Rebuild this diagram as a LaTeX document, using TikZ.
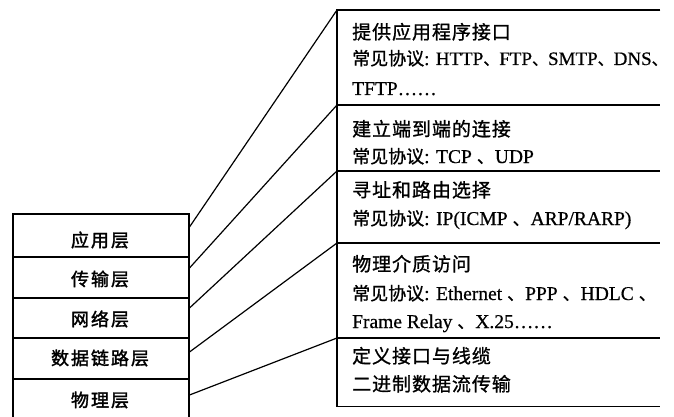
\documentclass[tikz,border=0pt]{standalone}
\usepackage{fontspec}
\setmainfont{Liberation Serif}[FakeBold=0.6]
\newfontfamily\cjk[FakeBold=1]{Noto Sans CJK SC}
\newfontfamily\cjkw[LetterSpace=5,FakeBold=1]{Noto Sans CJK SC}
\newfontfamily\cjkl[LetterSpace=11,FakeBold=1.8]{Noto Sans CJK SC}
\newcommand{\cdun}{{\cjk\fontsize{16}{16}\selectfont 、}}
\newcommand{\sdun}{\hspace{5pt}{\cjk\fontsize{17}{17}\selectfont 、}\hspace{1pt}}
\newcommand{\cjp}{{\cjk\fontsize{18}{18}\selectfont 常见协议}}
\begin{document}
\begin{tikzpicture}[x=1pt,y=-1pt,
  box/.style={draw=black, line width=1.5pt},
  layer/.style={rectangle, draw=black, line width=1.5pt, inner sep=0pt, minimum width=176pt, anchor=north west},
  sect/.style={rectangle, inner sep=0pt, minimum width=323pt, anchor=north west},
  lbl/.style={font=\cjkl\fontsize{18}{18}\selectfont, inner sep=0pt, anchor=center},
  txt/.style={anchor=base west, inner sep=0pt, font=\fontsize{19.5}{19.5}\selectfont},
  head/.style={anchor=base west, inner sep=0pt, font=\cjkw\fontsize{19}{19}\selectfont},
  conn/.style={line width=1.2pt}]
\useasboundingbox (0,0) rectangle (674,417);

% left stack
\node[layer, minimum height=43pt] (app) at (12,213) {};
\node[layer, minimum height=41pt] (trans) at (12,256) {};
\node[layer, minimum height=40pt] (net) at (12,297) {};
\node[layer, minimum height=41pt] (dl) at (12,337) {};
\node[layer, minimum height=46pt] (phy) at (12,378) {};

\node[lbl] (lapp) at (100,240) {应用层};
\node[lbl] (ltrans) at (100,279) {传输层};
\node[lbl] (lnet) at (100,319) {网络层};
\node[lbl] (ldl) at (100,358) {数据链路层};
\node[lbl] (lphy) at (100,400) {物理层};

% right sections
\node[sect, minimum height=95pt] (s1) at (337,10) {};
\node[sect, minimum height=66pt] (s2) at (337,105) {};
\node[sect, minimum height=72pt] (s3) at (337,171) {};
\node[sect, minimum height=95pt] (s4) at (337,243) {};
\node[sect, minimum height=68pt] (s5) at (337,338) {};

\draw[box] (s1.north east) -- (s1.north west) -- (s5.south west) -- (s5.south east);
\draw[box] (s2.north west) -- (s2.north east);
\draw[box] (s3.north west) -- (s3.north east);
\draw[box] (s4.north west) -- (s4.north east);
\draw[box] (s5.north west) -- (s5.north east);

% connectors
\coordinate (c1) at ([yshift=-14pt]app.north east);
\coordinate (c2) at ([yshift=-12pt]trans.north east);
\coordinate (c3) at ([yshift=-11pt]net.north east);
\coordinate (c4) at ([yshift=-15pt]dl.north east);
\coordinate (c5) at ([yshift=-17pt]phy.north east);
\draw[conn] (c1) -- (s1.north west);
\draw[conn] (c2) -- (s2.north west);
\draw[conn] (c3) -- (s3.north west);
\draw[conn] (c4) -- (s4.north west);
\draw[conn] (c5) -- (s5.north west);

% texts
\node[head] (t1) at (352,39) {提供应用程序接口};
\node[txt, font=\fontsize{19}{19}\selectfont] (t2) at (352,65) {\cjp: HTTP\cdun FTP\cdun SMTP\cdun DNS\cdun};
\node[txt] (t3) at (352,95) {TFTP……};
\node[head] (t4) at (352,136) {建立端到端的连接};
\node[txt] (t5) at (352,163) {\cjp: TCP\sdun UDP};
\node[head] (t6) at (352,197) {寻址和路由选择};
\node[txt] (t7) at (352,225) {\cjp: IP(ICMP\sdun ARP/RARP)};
\node[head] (t8) at (352,271) {物理介质访问};
\node[txt] (t9) at (352,300) {\cjp: Ethernet\sdun PPP\sdun HDLC\sdun};
\node[txt] (t10) at (352,328) {Frame Relay\sdun X.25……};
\node[head] (t11) at (352,363) {定义接口与线缆};
\node[head] (t12) at (352,391) {二进制数据流传输};
\end{tikzpicture}
\end{document}
